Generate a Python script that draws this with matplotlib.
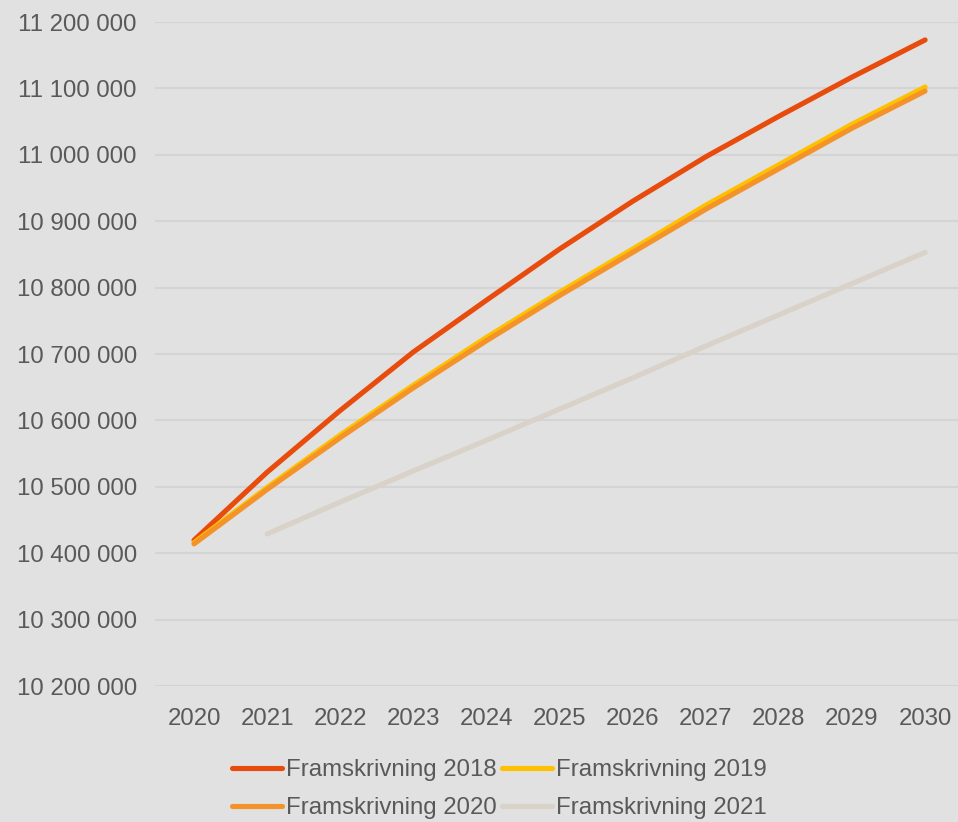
import matplotlib.pyplot as plt
import matplotlib.ticker as mticker
import numpy as np

years = ["2020", "2021", "2022", "2023", "2024", "2025",
         "2026", "2027", "2028", "2029", "2030"]
fram_2018 = [10419600, 10522000, 10615000, 10703000, 10781000, 10858000,
             10930000, 10997000, 11058000, 11117000, 11173000]
fram_2019 = [10416000, 10499000, 10578000, 10653000, 10725000, 10793000,
             10858000, 10924000, 10985000, 11046000, 11102000]
fram_2020 = [10414000, 10496000, 10574000, 10649000, 10720000, 10788000,
             10853000, 10918000, 10979000, 11040000, 11096000]
fram_2021 = [np.nan, 10429000, 10477000, 10524000, 10570000, 10617000,
             10664000, 10712000, 10759000, 10806000, 10853000]

series = [
    ("Framskrivning 2018", fram_2018, "#E84C0C"),
    ("Framskrivning 2019", fram_2019, "#FFC000"),
    ("Framskrivning 2020", fram_2020, "#F3932A"),
    ("Framskrivning 2021", fram_2021, "#D8D2C9"),
]

bg = "#E1E1E1"
text_color = "#595959"
plt.rcParams["font.family"] = ["Liberation Sans", "DejaVu Sans"]

fig = plt.figure(figsize=(9.58, 8.22), dpi=100, facecolor=bg)
ax = fig.add_axes([155 / 958, 1 - 686 / 822, 1 - 155 / 958, (686 - 22) / 822])
ax.set_facecolor(bg)

x = np.arange(len(years))
lines = []
for label, values, color in series:
    ln, = ax.plot(x, values, color=color, lw=3.7, label=label,
                  solid_capstyle="round", solid_joinstyle="round")
    lines.append(ln)

ax.set_ylim(10200000, 11200000)
ax.set_xlim(-0.534, 10.45)
ax.yaxis.set_major_locator(mticker.MultipleLocator(100000))
ax.yaxis.set_major_formatter(
    mticker.FuncFormatter(lambda v, p: f"{int(v):,}".replace(",", " ")))
ax.set_xticks(x)
ax.set_xticklabels(years)
ax.grid(axis="y", color="#D4D4D4", lw=1.5)
ax.set_axisbelow(True)
for s in ax.spines.values():
    s.set_visible(False)
ax.tick_params(length=0, labelsize=17.3, colors=text_color)
ax.tick_params(axis="y", pad=13)
ax.tick_params(axis="x", pad=15.5)

# matplotlib fills legend columns first, so reorder to read row by row
order = [0, 2, 1, 3]
leg = fig.legend([lines[i] for i in order], [series[i][0] for i in order],
                 loc="center", bbox_to_anchor=(0.521, 0.040), ncol=2,
                 frameon=False, fontsize=17.3, handlelength=2.1,
                 handletextpad=0.15, columnspacing=0.2, labelspacing=0.65)
for t in leg.get_texts():
    t.set_color(text_color)

fig.savefig("out.png", dpi=100, facecolor=bg)
